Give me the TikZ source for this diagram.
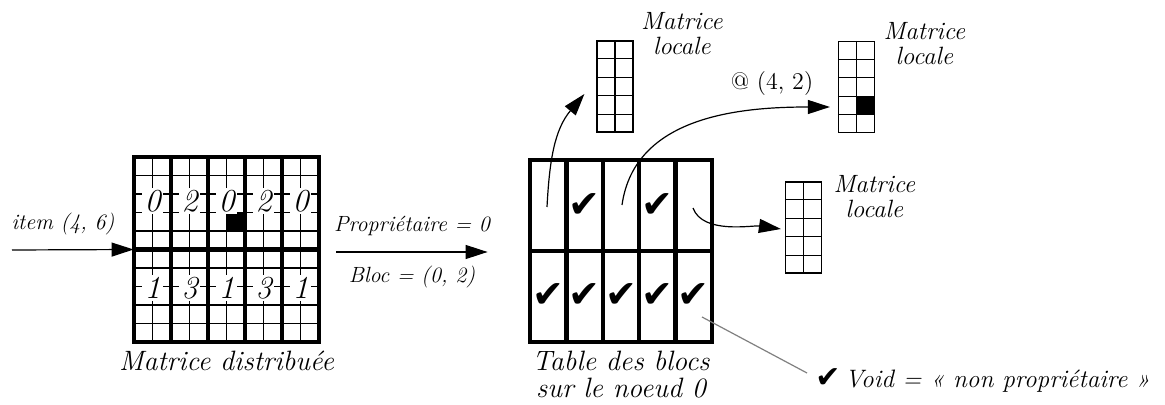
\documentclass[tikz,border=0pt]{standalone}
\usepackage{fontspec}
\newfontfamily\tickfont{DejaVu Sans}
\usetikzlibrary{arrows.meta,calc,positioning}

\tikzset{
  thinline/.style={line width=0.6pt},
  thickline/.style={line width=2.2pt},
  flow/.style={-{Triangle[length=11pt,width=7pt]}, line width=0.6pt},
  arclbl/.style={font=\itshape\fontsize{11}{12}\selectfont},
  caption/.style={font=\itshape\fontsize{14}{13.5}\selectfont, align=center},
  loclbl/.style={font=\itshape\fontsize{12.5}{12.5}\selectfont, align=center, inner sep=1pt},
  procnum/.style={font=\itshape\fontsize{16}{16}\selectfont, fill=white, inner sep=1.2pt},
  tick/.style={font=\tickfont\fontsize{19}{19}\selectfont, inner sep=0pt},
  locmat/.style={draw, thinline, inner sep=0pt, minimum width=18pt, minimum height=45.5pt},
}

\newcommand{\locgrid}[1]{%
  \draw[thinline] (#1.north) -- (#1.south);
  \foreach \j in {1,...,4}
    \draw[thinline] ($(#1.north west)!\j/5!(#1.south west)$) -- ($(#1.north east)!\j/5!(#1.south east)$);
}

\begin{document}
\begin{tikzpicture}[x=0.5pt,y=0.5pt]
  \useasboundingbox (0,0) rectangle (1165,-405);

  % matrice distribuee : 10x10 cases, blocs de 2x5
  \begin{scope}[shift={(134,-157)}]
    \fill (92.5,-55.5) rectangle (111,-74);
    \foreach \i in {1,...,9} {
      \draw[thinline] (\i*18.5,0) -- (\i*18.5,-185);
      \draw[thinline] (0,-\i*18.5) -- (185,-\i*18.5);
    }
    \foreach \p [count=\k from 0] in {0,2,0,2,0}
      \node[procnum] (top\k) at ({(2*\k+1)*18.5},-44) {\p};
    \foreach \p [count=\k from 0] in {1,3,1,3,1}
      \node[procnum] (bot\k) at ({(2*\k+1)*18.5},-131) {\p};
    \foreach \k in {1,...,4}
      \draw[thickline] (\k*37,0) -- (\k*37,-185);
    \draw[thickline] (0,-92.5) -- (185,-92.5);
    \draw[thickline] (0,0) rectangle (185,-185);
  \end{scope}
  \node[inner sep=0pt, minimum size=92.5pt] (dm) at (226.5,-249.5) {};

  % table des blocs
  \begin{scope}[shift={(530,-160)}]
    \foreach \k in {1,...,4}
      \draw[thickline] (\k*36.4,0) -- (\k*36.4,-182);
    \draw[thickline] (0,-91) -- (182,-91);
    \draw[thickline] (0,0) rectangle (182,-182);
    \foreach \k in {1,3}
      \node[tick] (tt\k) at ({(\k+0.5)*36.4},-46) {✔};
    \foreach \k in {0,...,4}
      \node[tick] (tb\k) at ({(\k+0.5)*36.4},-136) {✔};
    \coordinate (src1) at (17,-47);
    \coordinate (src2) at (92,-45);
    \coordinate (src3) at (163,-48);
    \coordinate (src4) at (172,-157);
  \end{scope}
  \node[inner sep=0pt, minimum size=91pt] (tab) at (621,-251) {};

  % matrices locales
  \node[locmat] (lm1) at (615,-86.5) {};
  \node[locmat] (lm2) at (856.5,-87) {};
  \node[locmat] (lm3) at (803.5,-227.5) {};
  \fill ($(lm2.north)!3/5!(lm2.south)$) rectangle ($(lm2.north east)!4/5!(lm2.south east)$);
  \locgrid{lm1}
  \locgrid{lm2}
  \locgrid{lm3}
  \node[loclbl, anchor=west] (lbl1) at ([shift={(2.5pt,3.5pt)}]lm1.north east) {Matrice\\locale};
  \node[loclbl, anchor=west] (lbl2) at ([shift={(3pt,-1.5pt)}]lm2.north east) {Matrice\\locale};
  \node[loclbl, anchor=west] (lbl3) at ([shift={(4.5pt,-7.75pt)}]lm3.north east) {Matrice\\locale};

  % fleches
  \coordinate (itemsrc) at (12,-250);
  \draw[flow] (itemsrc) -- (dm.west)
    node[arclbl, pos=0.42, above=4pt] {item (4, 6)};
  \draw[flow] ([xshift=8.5pt,yshift=-1.25pt]dm.east) -- ([xshift=-21pt,yshift=-0.5pt]tab.west)
    node[arclbl, midway, above=4.5pt] {Propriétaire = 0}
    node[arclbl, midway, below=3.5pt] {Bloc = (0, 2)};
  \draw[flow] (src1) to[out=87, in=-130] ([shift={(-6pt,-3.75pt)}]lm1.west);
  \draw[flow] (src2) to[out=82, in=180] ([shift={(-4pt,-10pt)}]lm2.west);
  \node[font=\fontsize{12}{13}\selectfont] (at42) at (772,-84) {@ (4, 2)};
  \draw[flow] (src3) to[out=-70, in=172, looseness=0.8] ([shift={(-2pt,-0.75pt)}]lm3.west);

  % legende
  \node[font=\itshape\fontsize{12.6}{14}\selectfont, anchor=west, inner sep=2pt] (void) at (811,-380)
    {{\tickfont\fontsize{15}{15}\selectfont ✔}\,Void = « non propriétaire »};
  \draw[gray, thinline] (src4) -- ([shift={(-2pt,3.5pt)}]void.west);

  \node[caption, below=1pt of dm] (dmcap) {Matrice distribuée};
  \node[caption, below=1pt of tab] (tabcap) {Table des blocs\\sur le noeud 0};
\end{tikzpicture}
\end{document}
